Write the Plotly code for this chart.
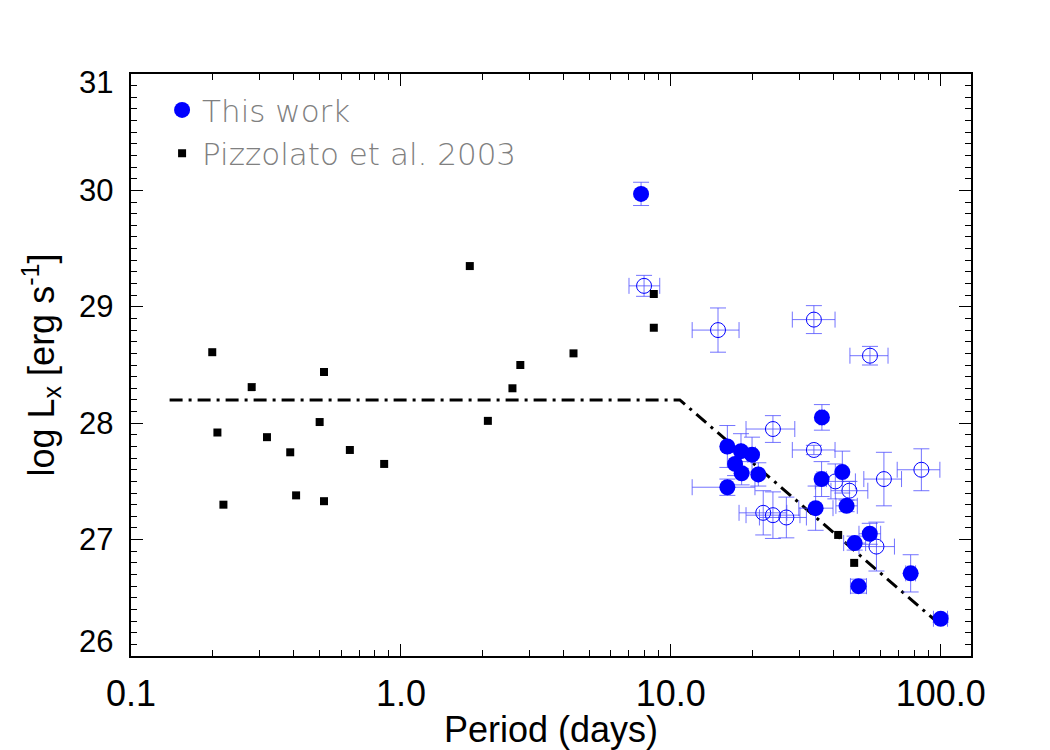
import numpy as np
import plotly.graph_objects as go

# ---- This work: filled (detected) ----
work_period = [7.76, 36.3, 16.2, 18.2, 20.0, 17.3, 18.3, 21.1, 16.2, 36.2,
               43.2, 34.4, 44.8, 54.6, 48.0, 77.4, 49.6, 100.0]
work_lx = [29.97, 28.05, 27.80, 27.76, 27.73, 27.65, 27.57, 27.56, 27.45, 27.52,
           27.58, 27.27, 27.29, 27.05, 26.97, 26.71, 26.60, 26.32]
work_plo = [7.76, 35.5, 16.2, 18.2, 19.3, 17.3, 18.3, 21.1, 12.0, 34.8,
            43.2, 29.8, 40.9, 49.8, 43.7, 74.2, 46.3, 94.0]
work_phi = [7.76, 37.1, 16.2, 18.2, 20.6, 17.3, 18.3, 21.1, 20.5, 37.7,
            43.2, 39.9, 49.1, 59.9, 52.7, 80.7, 53.1, 106.0]
work_lerr = [0.10, 0.11, 0.18, 0.15, 0.15, 0.10, 0.10, 0.10, 0.07, 0.15,
             0.18, 0.19, 0.05, 0.09, 0.06, 0.16, 0.06, 0.03]

# ---- This work: open circles ----
open_period = [7.96, 14.96, 33.9, 54.7, 23.9, 33.9, 40.7, 45.9, 61.6, 84.8,
               22.0, 23.9, 26.8, 57.8]
open_lx = [29.18, 28.80, 28.89, 28.58, 27.95, 27.77, 27.50, 27.42, 27.52, 27.60,
           27.23, 27.21, 27.19, 26.94]
open_plo = [7.0, 12.0, 28.2, 46.1, 19.0, 28.2, 34.3, 39.2, 51.9, 69.0,
            17.9, 19.0, 21.3, 49.8]
open_phi = [9.1, 17.9, 40.6, 63.8, 28.8, 40.6, 48.3, 53.7, 71.6, 99.3,
            26.9, 30.1, 31.8, 67.4]
open_lerr = [0.09, 0.19, 0.12, 0.08, 0.115, 0.04, 0.15, 0.08, 0.23, 0.18,
             0.19, 0.20, 0.175, 0.21]

# ---- Pizzolato et al. 2003 ----
piz_period = [0.200, 0.209, 0.220, 0.280, 0.319, 0.389, 0.409, 0.500, 0.519, 0.519,
              0.647, 0.867, 1.80, 2.10, 2.59, 2.77, 4.36, 8.65, 8.65, 41.7, 47.8]
piz_lx = [28.61, 27.92, 27.30, 28.31, 27.88, 27.75, 27.38, 28.01, 28.44, 27.33,
          27.77, 27.65, 29.35, 28.02, 28.30, 28.50, 28.60, 29.11, 28.82, 27.04, 26.80]

# ---- saturation / decay relation ----
fit_period = [0.139, 10.8, 95.0]
fit_lx = [28.2, 28.2, 26.31]

x_tickvals = [0.1, 1.0, 10.0, 100.0]
x_ticktext = ["0.1", "1.0", "10.0", "100.0"]
y_tickvals = [26, 27, 28, 29, 30, 31]
y_ticktext = ["26", "27", "28", "29", "30", "31"]

BLUE = "#0000ff"
ERRC = "rgba(80,80,255,0.8)"
FONT = "Liberation Sans, Arial, sans-serif"


def errs(p, lo, hi):
    p, lo, hi = np.array(p), np.array(lo), np.array(hi)
    return hi - p, p - lo


fig = go.Figure()

fig.add_trace(go.Scatter(
    x=fit_period, y=fit_lx, mode="lines",
    line=dict(color="black", width=3, dash="13px,6px,3px,6px"),
    showlegend=False, hoverinfo="skip"))

op_plus, op_minus = errs(open_period, open_plo, open_phi)
fig.add_trace(go.Scatter(
    x=open_period, y=open_lx, mode="markers",
    marker=dict(symbol="circle-open", size=15, color=BLUE, line=dict(width=1, color=BLUE)),
    error_x=dict(type="data", symmetric=False, array=op_plus, arrayminus=op_minus,
                 color=ERRC, thickness=1, width=8),
    error_y=dict(type="data", array=open_lerr, color=ERRC, thickness=1, width=8),
    showlegend=False))

wp_plus, wp_minus = errs(work_period, work_plo, work_phi)
fig.add_trace(go.Scatter(
    x=work_period, y=work_lx, mode="markers", name="This work",
    marker=dict(symbol="circle", size=16, color=BLUE),
    error_x=dict(type="data", symmetric=False, array=wp_plus, arrayminus=wp_minus,
                 color=ERRC, thickness=1, width=8),
    error_y=dict(type="data", array=work_lerr, color=ERRC, thickness=1, width=8)))

fig.add_trace(go.Scatter(
    x=piz_period, y=piz_lx, mode="markers", name="Pizzolato et al. 2003",
    marker=dict(symbol="square", size=8, color="black")))

axis_common = dict(
    showline=True, linecolor="black", linewidth=1.5, mirror="allticks",
    ticks="inside", ticklen=12, tickwidth=1, tickcolor="black",
    showgrid=False, zeroline=False,
)

fig.update_xaxes(
    type="log", range=[-1, np.log10(129.5)],
    tickvals=x_tickvals, ticktext=x_ticktext,
    tickfont=dict(family=FONT, size=36, color="black"),
    minor=dict(ticks="inside", ticklen=6, tickcolor="black",
               tickvals=[0.2, 0.3, 0.4, 0.5, 0.6, 0.7, 0.8, 0.9,
                         2, 3, 4, 5, 6, 7, 8, 9,
                         20, 30, 40, 50, 60, 70, 80, 90], showgrid=False),
    title=dict(text="Period (days)", font=dict(family=FONT, size=36, color="black"), standoff=9),
    ticklabelstandoff=5, automargin=False,
    **axis_common)
fig.update_yaxes(
    range=[26, 31], tickvals=y_tickvals, showticklabels=False,
    minor=dict(ticks="inside", ticklen=6, tickcolor="black", dtick=0.1, showgrid=False),
    title=dict(text="log L<sub>x</sub> [erg s<sup>-1</sup>]",
               font=dict(family=FONT, size=36, color="black"),
               standoff=64),
    automargin=False,
    **axis_common)

# y tick labels (end labels kept inside the frame, as in the original)
ymin, ymax = min(y_tickvals), max(y_tickvals)
for v, t in zip(y_tickvals, y_ticktext):
    shift = 15 if v == ymin else (-8 if v == ymax else 0)
    fig.add_annotation(x=0, xref="paper", y=v, yref="y", text=t, showarrow=False,
                       xanchor="right", yanchor="middle", xshift=-16, yshift=shift,
                       font=dict(family=FONT, size=31, color="black"))

fig.update_layout(
    width=1050, height=750,
    margin=dict(l=131, r=79, t=74, b=94),
    paper_bgcolor="white", plot_bgcolor="white",
    legend=dict(x=0.037, y=0.984, xanchor="left", yanchor="top",
                bgcolor="rgba(0,0,0,0)",
                font=dict(family="DejaVu Sans", size=31, color="#808080", weight=200),
                itemsizing="trace", tracegroupgap=0),
)

fig.write_html("out.html")
